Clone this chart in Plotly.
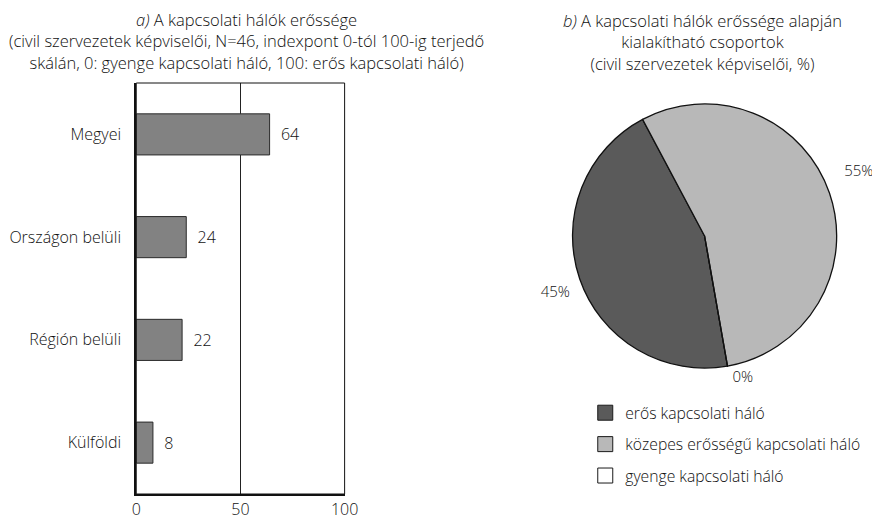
import plotly.graph_objects as go

# Bar chart data (a)
bar_categories = ["Megyei", "Országon belüli", "Régión belüli", "Külföldi"]
bar_values = [64, 24, 22, 8]
x_ticks = [0, 50, 100]

# Pie chart data (b)
pie_labels = ["erős kapcsolati háló", "közepes erősségű kapcsolati háló", "gyenge kapcsolati háló"]
pie_values = [45, 55, 0]
pie_colors = ["#5a5a5a", "#b8b8b8", "#ffffff"]

FONT = "Open Sans"
TXT = "#111"
W, H = 872, 512  # page body has an 8px margin in the browser


def px_x(x):
    return x / W


def px_y(y):
    return 1 - y / H


fig = go.Figure()

fig.add_trace(go.Bar(
    x=bar_values, y=bar_categories, orientation="h",
    marker=dict(color="#828282", line=dict(color="#2a2a2a", width=1)),
    text=[str(v) for v in bar_values], texttemplate="  %{text}",
    textposition="outside", cliponaxis=False,
    textfont=dict(size=16, color=TXT, family=FONT, weight=300),
    showlegend=False, width=0.4,
))

fig.add_trace(go.Pie(
    labels=pie_labels, values=pie_values, sort=False,
    direction="clockwise", rotation=170,
    marker=dict(colors=pie_colors, line=dict(color="#111", width=1.3)),
    texttemplate=["\u00a0<br>%{value}%", "%{value}%<br>\u00a0<br>\u00a0", "%{value}%"],
    textposition="outside",
    textfont=dict(size=15, color=TXT, family=FONT, weight=300),
    domain=dict(x=[px_x(572), px_x(842)], y=[px_y(363), px_y(93)]),
    showlegend=False, hoverinfo="label+percent",
))

# legend entries for pie categories
for lab, col in zip(pie_labels, pie_colors):
    fig.add_trace(go.Scatter(
        x=[None], y=[None], mode="markers", name=lab, legendgroup=lab,
        marker=dict(symbol="square", size=15, color=col, line=dict(color="#1a1a1a", width=1)),
        xaxis="x2", yaxis="y2", showlegend=True,
    ))

fig.update_layout(
    width=W, height=H,
    margin=dict(l=0, r=0, t=0, b=0),
    paper_bgcolor="white", plot_bgcolor="white",
    font=dict(family=FONT, size=16, color=TXT, weight=300),
    xaxis=dict(domain=[px_x(126), px_x(339)], range=[0, 100], tickvals=x_ticks,
               showgrid=True, gridcolor="#222", gridwidth=1,
               showline=True, linecolor="#111", linewidth=2, zeroline=False,
               ticks="", tickfont=dict(size=16)),
    yaxis=dict(domain=[px_y(486), px_y(75)], autorange="reversed",
               showline=True, linecolor="#111", linewidth=2,
               ticks="", ticklabelstandoff=10, tickfont=dict(size=16)),
    xaxis2=dict(visible=False, domain=[0.9, 0.91], anchor="y2"),
    yaxis2=dict(visible=False, domain=[0.9, 0.91], anchor="x2"),
    showlegend=True,
    legend=dict(x=px_x(585), y=px_y(388), xanchor="left", yanchor="top",
                traceorder="grouped", tracegroupgap=8,
                font=dict(size=15.7, family=FONT, weight=300, color=TXT), bgcolor="rgba(0,0,0,0)"),
    shapes=[dict(type="rect", xref="x domain", yref="y domain",
                 x0=0, x1=1, y0=0, y1=1, line=dict(color="#111", width=1))],
    annotations=[
        dict(text="<i>a)</i> A kapcsolati hálók erőssége<br>(civil szervezetek képviselői, N=46, indexpont 0-tól 100-ig terjedő<br>skálán, 0: gyenge kapcsolati háló, 100: erős kapcsolati háló)",
             x=px_x(239), y=1.0, xref="paper", yref="paper", xanchor="center", yanchor="top",
             showarrow=False, font=dict(size=16.5, family=FONT, weight=300, color=TXT), align="center", yshift=2),
        dict(text="<i>b)</i> A kapcsolati hálók erőssége alapján<br>kialakítható csoportok<br>(civil szervezetek képviselői, %)",
             x=px_x(705), y=1.0, xref="paper", yref="paper", xanchor="center", yanchor="top",
             showarrow=False, font=dict(size=16.5, family=FONT, weight=300, color=TXT), align="center", yshift=1),
    ],
)

fig.write_html("out.html")
